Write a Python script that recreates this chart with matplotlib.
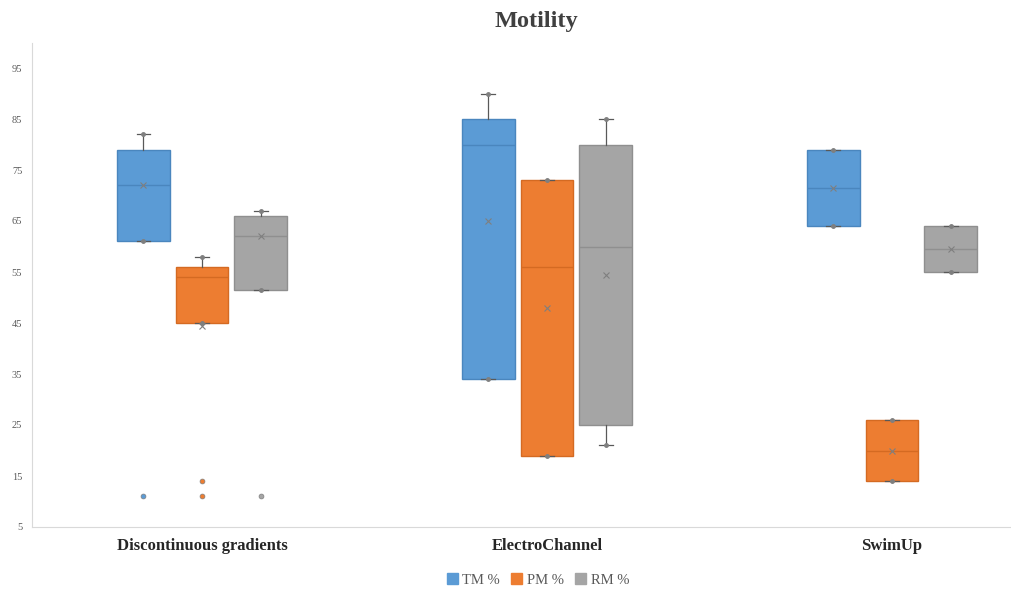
import numpy as np
import matplotlib.pyplot as plt
from matplotlib.patches import Patch

plt.rcParams['font.family'] = ['Liberation Serif', 'DejaVu Serif']

categories = ['Discontinuous gradients', 'ElectroChannel', 'SwimUp']
series = ['TM %', 'PM %', 'RM %']
colors = ['#5B9BD5', '#ED7D31', '#A5A5A5']
edges = ['#4A86BE', '#D46A22', '#8F8F8F']

# five-number summaries per series, one value per category
tm_low = [61, 34, 64]
tm_q1 = [61, 34, 64]
tm_med = [72, 80, 71.5]
tm_q3 = [79, 85, 79]
tm_high = [82, 90, 79]
tm_mean = [72, 65, 71.5]
tm_out = [[11], [], []]

pm_low = [45, 19, 14]
pm_q1 = [45, 19, 14]
pm_med = [54, 56, 20]
pm_q3 = [56, 73, 26]
pm_high = [58, 73, 26]
pm_mean = [44.5, 48, 20]
pm_out = [[14, 11], [], []]

rm_low = [51.5, 21, 55]
rm_q1 = [51.5, 25, 55]
rm_med = [62, 60, 59.5]
rm_q3 = [66, 80, 64]
rm_high = [67, 85, 64]
rm_mean = [62, 54.5, 59.5]
rm_out = [[11], [], []]

all_data = [
    (tm_low, tm_q1, tm_med, tm_q3, tm_high, tm_mean, tm_out),
    (pm_low, pm_q1, pm_med, pm_q3, pm_high, pm_mean, pm_out),
    (rm_low, rm_q1, rm_med, rm_q3, rm_high, rm_mean, rm_out),
]

fig = plt.figure(figsize=(10.11, 5.9), dpi=100)
ax = fig.add_axes([32 / 1011, 1 - 527 / 590, (1011 - 32) / 1011, (527 - 42.5) / 590])

x = np.arange(1, len(categories) + 1)
offsets = [-0.17, 0.0, 0.17]

for k, (lo, q1, med, q3, hi, mean, out) in enumerate(all_data):
    stats = []
    for i in range(len(categories)):
        stats.append(dict(whislo=lo[i], q1=q1[i], med=med[i], q3=q3[i],
                          whishi=hi[i], mean=mean[i], fliers=out[i]))
    pos = x + offsets[k]
    ax.bxp(stats, positions=pos, widths=0.153, patch_artist=True,
           showmeans=True, capwidths=0.04,
           boxprops=dict(facecolor=colors[k], edgecolor=edges[k], linewidth=1),
           medianprops=dict(color=edges[k], linewidth=1),
           whiskerprops=dict(color='#595959', linewidth=0.9),
           capprops=dict(color='#595959', linewidth=0.9),
           meanprops=dict(marker='x', markeredgecolor='#7F7F7F', markersize=5,
                          markeredgewidth=0.8),
           flierprops=dict(marker='o', markerfacecolor=colors[k],
                           markeredgecolor='#7F7F7F', markersize=3.5,
                           markeredgewidth=0.5))
    # small point markers at whisker ends
    ax.plot(pos, hi, 'o', color='#7F7F7F', markersize=2.5, zorder=4)
    ax.plot(pos, lo, 'o', color='#7F7F7F', markersize=2.5, zorder=4)

ax.set_xlim(0.507, 3.345)
ax.set_ylim(5, 100)
ax.set_yticks(np.arange(5, 100, 10))
ax.set_xticks(x)
ax.set_xticklabels(categories, fontsize=12, fontweight='bold', color='#262626')
ax.tick_params(axis='x', length=0, pad=8)
ax.tick_params(axis='y', length=0, pad=7, labelsize=7.5, labelcolor='#595959')

for s in ['top', 'right']:
    ax.spines[s].set_visible(False)
for s in ['left', 'bottom']:
    ax.spines[s].set_color('#D9D9D9')

fig.text(536 / 1011, 1 - 22 / 590, 'Motility', ha='center', va='center',
         fontsize=17.5, fontweight='bold', color='#404040')

handles = [Patch(facecolor=c, edgecolor=c) for c in colors]
fig.legend(handles, series, loc='center', bbox_to_anchor=(538 / 1011, 1 - 580 / 590),
           ncol=3, frameon=False, fontsize=10.5, handlelength=0.75, handleheight=0.75,
           handletextpad=0.3, columnspacing=0.8, labelcolor='#595959')

fig.savefig('out.png', dpi=100)
